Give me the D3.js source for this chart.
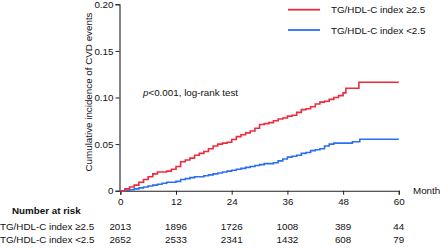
<!DOCTYPE html>
<html>
<head>
<meta charset="utf-8">
<script src="https://cdn.jsdelivr.net/npm/d3@7"></script>
<style>
  body { margin: 0; background: #fff; }
  svg { display: block; font-family: "Liberation Sans", Arial, sans-serif; }
</style>
</head>
<body>
<div id="chart"></div>
<script>
// Step data (month, cumulative incidence)
const highMonths = [0, 1, 2, 3, 4, 5, 6, 7, 8, 9, 10, 11, 12, 13, 14, 15, 16, 17, 18, 19, 20, 21, 22, 23, 24, 25, 26, 27, 28, 29, 30, 31, 32, 33, 34, 35, 36, 37, 38, 39, 40, 41, 42, 43, 44, 45, 46, 47, 48, 48.6, 51.4, 60];
const highValues = [0, 0.002, 0.004, 0.006, 0.009, 0.012, 0.015, 0.018, 0.020, 0.020, 0.021, 0.023, 0.026, 0.031, 0.033, 0.035, 0.038, 0.040, 0.042, 0.045, 0.048, 0.050, 0.051, 0.052, 0.055, 0.058, 0.060, 0.062, 0.064, 0.067, 0.071, 0.072, 0.073, 0.075, 0.077, 0.078, 0.080, 0.081, 0.084, 0.087, 0.088, 0.090, 0.093, 0.095, 0.096, 0.098, 0.100, 0.102, 0.105, 0.110, 0.1163, 0.1163];

const lowMonths = [0, 1, 2, 3, 4, 5, 6, 7, 8, 9, 10, 11, 12, 13, 14, 15, 16, 17, 18, 19, 20, 21, 22, 23, 24, 25, 26, 27, 28, 29, 30, 31, 32, 33, 34, 35, 36, 37, 38, 39, 40, 41, 42, 43, 44, 45, 46, 50, 51.6, 60];
const lowValues = [0, 0.0005, 0.001, 0.002, 0.003, 0.004, 0.005, 0.006, 0.007, 0.008, 0.009, 0.009, 0.010, 0.012, 0.013, 0.014, 0.015, 0.015, 0.016, 0.017, 0.018, 0.019, 0.020, 0.021, 0.022, 0.023, 0.024, 0.025, 0.026, 0.027, 0.028, 0.029, 0.029, 0.030, 0.032, 0.034, 0.036, 0.037, 0.038, 0.040, 0.041, 0.043, 0.044, 0.045, 0.048, 0.050, 0.051, 0.0526, 0.0552, 0.0552];

const groupNames = ["TG/HDL-C index \u22652.5", "TG/HDL-C index <2.5"];
const groupColors = ["#ee2b3e", "#2b6ff0"];

const xTicks = [0, 12, 24, 36, 48, 60];
const yTicks = [0, 0.05, 0.10, 0.15, 0.20];
const atRiskHigh = [2013, 1896, 1726, 1008, 389, 44];
const atRiskLow = [2652, 2533, 2341, 1432, 608, 79];

const W = 440, H = 248;
const fs = 9.8;
const svg = d3.select("#chart").append("svg")
    .attr("width", W)
    .attr("height", H);

const x = d3.scaleLinear().domain([0, 60]).range([120.3, 398.8]);
const y = d3.scaleLinear().domain([0, 0.20]).range([190.7, 4.3]);

// axes
const xAxis = svg.append("g")
    .attr("transform", `translate(0,${y(0)})`)
    .call(d3.axisBottom(x).tickValues(xTicks).tickSize(4).tickPadding(3).tickFormat(d => d));
const yAxis = svg.append("g")
    .attr("transform", `translate(${x(0) - 0.8},0)`)
    .call(d3.axisLeft(y).tickValues(yTicks).tickSize(4).tickPadding(2)
        .tickFormat(d => d === 0 ? "0" : d.toFixed(2)));

[xAxis, yAxis].forEach(a => {
    a.select(".domain").attr("stroke", "#222").attr("stroke-width", 1.1);
    a.selectAll(".tick line").attr("stroke", "#222");
    a.selectAll("text").attr("font-size", fs).attr("fill", "#111")
        .attr("font-family", "Liberation Sans, Arial, sans-serif");
});

svg.append("text")
    .attr("x", 413).attr("y", y(0) + 3.5)
    .attr("font-size", fs).attr("fill", "#111")
    .text("Month");

svg.append("text")
    .attr("transform", `translate(91.5,${92}) rotate(-90)`)
    .attr("text-anchor", "middle")
    .attr("font-size", fs).attr("fill", "#111")
    .text("Cumulative incidence of CVD events");

// p value
const pText = svg.append("text")
    .attr("x", 143).attr("y", 95.5)
    .attr("font-size", fs).attr("fill", "#111");
pText.append("tspan").attr("font-style", "italic").text("p");
pText.append("tspan").text("<0.001, log-rank test");

// step curves
const line = d3.line()
    .x(d => x(d[0]))
    .y(d => y(d[1]))
    .curve(d3.curveStepAfter);

const series = [
    d3.zip(lowMonths, lowValues),
    d3.zip(highMonths, highValues)
];
const seriesColors = [groupColors[1], groupColors[0]];

svg.selectAll(".km")
    .data(series)
    .enter()
    .append("path")
    .attr("class", "km")
    .attr("d", line)
    .attr("fill", "none")
    .attr("stroke", (d, i) => seriesColors[i])
    .attr("stroke-width", 1.6);

// legend
const legend = svg.selectAll(".legend")
    .data(groupNames)
    .enter()
    .append("g")
    .attr("class", "legend")
    .attr("transform", (d, i) => `translate(288,${9.7 + i * 20.3})`);

legend.append("line")
    .attr("x1", 0).attr("x2", 32)
    .attr("stroke", (d, i) => groupColors[i])
    .attr("stroke-width", 1.8);

legend.append("text")
    .attr("x", 43).attr("y", 3.5)
    .attr("font-size", fs).attr("fill", "#111")
    .text(d => d);

// number at risk table
svg.append("text")
    .attr("x", 12).attr("y", 213.5)
    .attr("font-size", fs).attr("font-weight", "bold").attr("fill", "#111")
    .text("Number at risk");

const rows = [atRiskHigh, atRiskLow];
const rowY = [229.5, 242.8];

rows.forEach((vals, r) => {
    svg.append("text")
        .attr("x", 0).attr("y", rowY[r])
        .attr("font-size", fs).attr("fill", "#111")
        .text(groupNames[r]);
    svg.selectAll(".risk" + r)
        .data(vals)
        .enter()
        .append("text")
        .attr("class", "risk" + r)
        .attr("x", (d, i) => x(xTicks[i]))
        .attr("y", rowY[r])
        .attr("text-anchor", "middle")
        .attr("font-size", fs).attr("fill", "#111")
        .text(d => d);
});
</script>
</body>
</html>
